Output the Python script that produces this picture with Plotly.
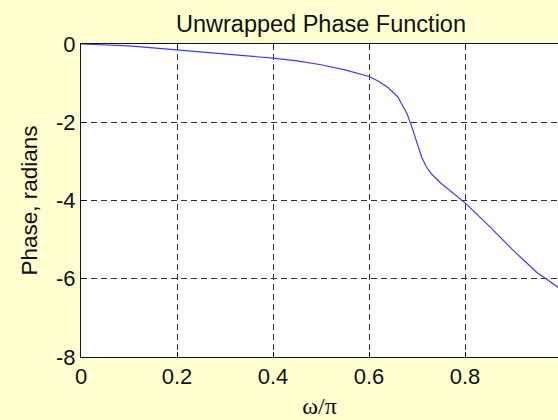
import plotly.graph_objects as go

# Data
omega = [0, 0.05, 0.1, 0.15, 0.2, 0.25, 0.3, 0.35, 0.4, 0.45, 0.5, 0.55,
         0.6, 0.62, 0.64, 0.66, 0.68, 0.69, 0.70, 0.71, 0.72, 0.73, 0.75,
         0.8, 0.85, 0.9, 0.95, 1.0]
phase = [0, -0.02, -0.05, -0.10, -0.15, -0.21, -0.26, -0.31, -0.36, -0.43,
         -0.53, -0.66, -0.83, -0.95, -1.12, -1.35, -1.80, -2.15, -2.55, -2.90,
         -3.15, -3.32, -3.56, -4.06, -4.65, -5.27, -5.84, -6.27]

x_ticks = [0, 0.2, 0.4, 0.6, 0.8, 1]
x_ticklabels = ["0", "0.2", "0.4", "0.6", "0.8", "1"]
y_ticks = [-8, -6, -4, -2, 0]
y_ticklabels = ["-8", "-6", "-4", "-2", "0"]

fig = go.Figure()
fig.add_trace(go.Scatter(x=omega, y=phase, mode="lines",
                         line=dict(color="#3a3aff", width=1.2),
                         showlegend=False, hoverinfo="skip"))

W, H = 558, 420
L, T, B = 81, 44, 63
plot_w_full = 480  # pixel width of x from 0 to 1 (right edge is off-image)
xmax = (W - L) / plot_w_full

fig.update_layout(
    width=W, height=H,
    margin=dict(l=L, r=0, t=T, b=B, pad=0),
    paper_bgcolor="#FFFFD0",
    plot_bgcolor="#FFFFFF",
    font=dict(family="Liberation Sans, Arial, sans-serif", color="#111111", size=22),
    title=dict(text="Unwrapped Phase Function", x=(L + 240) / W, xanchor="center",
               y=1 - 32 / H, yanchor="bottom", yref="container",
               font=dict(size=23.5, color="#111111")),
)

fig.update_xaxes(
    range=[0, xmax], tickmode="array", tickvals=x_ticks, ticktext=x_ticklabels,
    showgrid=True, gridcolor="#333333", gridwidth=1, griddash="6px,4px",
    zeroline=False, showline=True, linecolor="#111111", linewidth=1,
    mirror="ticks", ticks="inside", ticklen=5, tickcolor="#111111",
    tickfont=dict(size=22),
    title=dict(text="ω/π", font=dict(family="Liberation Serif, Times New Roman, serif", size=24),
               standoff=8),
)
fig.update_yaxes(
    range=[-8, 0], tickmode="array", tickvals=y_ticks, ticktext=y_ticklabels,
    showgrid=True, gridcolor="#333333", gridwidth=1, griddash="6px,4px",
    zeroline=False, showline=True, linecolor="#111111", linewidth=1,
    mirror=False, ticks="inside", ticklen=5, tickcolor="#111111",
    tickfont=dict(size=22),
    title=dict(text="Phase, radians", font=dict(size=22.5), standoff=12),
)

fig.write_html("out.html")
